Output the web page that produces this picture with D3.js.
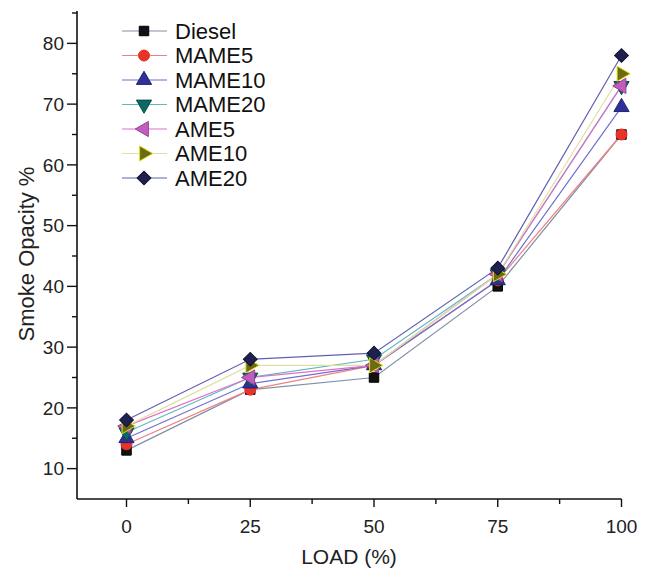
<!DOCTYPE html>
<html><head><meta charset="utf-8">
<script src="https://cdn.jsdelivr.net/npm/d3@7"></script>
<style>body{margin:0;background:#fff}svg{display:block}text{font-family:Arial,"Liberation Sans",sans-serif}</style>
</head><body><svg id="c" width="646" height="571"></svg>
<script>
const loads = [0, 25, 50, 75, 100];
const seriesNames = ["Diesel","MAME5","MAME10","MAME20","AME5","AME10","AME20"];
const diesel = [13, 23, 25, 40, 65];
const mame5  = [14, 23, 27, 41, 65];
const mame10 = [15, 24, 27, 41, 69.5];
const mame20 = [16, 25, 28, 42, 73];
const ame5   = [17, 25, 27, 42, 73];
const ame10  = [17, 27, 27, 42, 75];
const ame20  = [18, 28, 29, 43, 78];
const xTicks = [0, 25, 50, 75, 100];
const yTicks = [10, 20, 30, 40, 50, 60, 70, 80];

const values = [diesel, mame5, mame10, mame20, ame5, ame10, ame20];
const fills  = ["#111111","#e8322a","#2e2f9a","#0c6a66","#c05ec0","#6b6b10","#202050"];
const strokes= ["#000000","#e8322a","#22226a","#0a4a48","#9a409a","#e0e020","#101030"];
const lineCols=["#7f8fa8","#f08080","#7070d0","#60b8c0","#e070c8","#e0e0a0","#6060b0"];
const symbols = [d3.symbolSquare, d3.symbolCircle, d3.symbolTriangle, "down", "left", "right", "diamond"];

const svg = d3.select("#c");
const x = d3.scaleLinear().domain([-10, 100]).range([77, 621.5]);
const y = d3.scaleLinear().domain([5, 85]).range([499, 13]);

function markerPath(i, size) {
  const s = symbols[i];
  if (s === "down" || s === "left" || s === "right") {
    const p = d3.symbol(d3.symbolTriangle, size)();
    return {p, rot: s === "down" ? 180 : (s === "left" ? -90 : 90)};
  }
  if (s === "diamond") return {p: d3.symbol(d3.symbolSquare, size)(), rot: 45};
  return {p: d3.symbol(s, size)(), rot: 0};
}
const msize = [90, 95, 100, 100, 100, 100, 95];

// axes
const xAxis = svg.append("g").attr("transform", `translate(0,499)`);
xAxis.append("line").attr("x1", 77).attr("x2", 621.5).attr("stroke", "#111").attr("stroke-width", 1.6);
d3.range(0, 101, 12.5).forEach(v => {
  const major = v % 25 === 0;
  xAxis.append("line").attr("x1", x(v)).attr("x2", x(v)).attr("y1", 0).attr("y2", major ? 8 : 5)
    .attr("stroke", "#111").attr("stroke-width", 1.4);
});
xAxis.selectAll("text.t").data(xTicks).enter().append("text")
  .attr("x", d => x(d)).attr("y", 34).attr("text-anchor", "middle")
  .attr("font-size", 19).attr("fill", "#222").text(d => d);

const yAxis = svg.append("g").attr("transform", `translate(77,0)`);
yAxis.append("line").attr("y1", 499).attr("y2", 11).attr("stroke", "#111").attr("stroke-width", 1.6);
d3.range(5, 86, 5).forEach(v => {
  if (v === 5) return;
  const major = v % 10 === 0;
  yAxis.append("line").attr("y1", y(v)).attr("y2", y(v)).attr("x1", 0).attr("x2", major ? -10 : -5)
    .attr("stroke", "#111").attr("stroke-width", 1.4);
});
yAxis.selectAll("text.t").data(yTicks).enter().append("text")
  .attr("x", -13).attr("y", d => y(d)).attr("dy", "0.35em").attr("text-anchor", "end")
  .attr("font-size", 19).attr("fill", "#222").text(d => d);

svg.append("text").attr("x", 349).attr("y", 564).attr("text-anchor", "middle")
  .attr("font-size", 21).attr("fill", "#222").text("LOAD (%)");
svg.append("text").attr("transform", "translate(34,254) rotate(-90)").attr("text-anchor", "middle")
  .attr("font-size", 22).attr("fill", "#222").text("Smoke Opacity %");

// lines
const line = d3.line().x((d, j) => x(loads[j])).y(d => y(d));
values.forEach((vals, i) => {
  svg.append("path").attr("d", line(vals)).attr("fill", "none")
    .attr("stroke", lineCols[i]).attr("stroke-width", 1.2);
});
// markers
values.forEach((vals, i) => {
  const m = markerPath(i, msize[i]);
  svg.append("g").selectAll("path").data(vals).enter().append("path")
    .attr("d", m.p)
    .attr("transform", (d, j) => `translate(${x(loads[j])},${y(d)}) rotate(${m.rot})`)
    .attr("fill", fills[i]).attr("stroke", strokes[i]).attr("stroke-width", 1);
});

// legend
const lg = svg.append("g");
seriesNames.forEach((n, i) => {
  const yy = 31 + i * 24.5;
  lg.append("line").attr("x1", 122).attr("x2", 167).attr("y1", yy).attr("y2", yy)
    .attr("stroke", lineCols[i]).attr("stroke-width", 1.2);
  const m = markerPath(i, msize[i]);
  lg.append("path").attr("d", m.p).attr("transform", `translate(144,${yy}) rotate(${m.rot})`)
    .attr("fill", fills[i]).attr("stroke", strokes[i]).attr("stroke-width", 1);
  lg.append("text").attr("x", 175).attr("y", yy).attr("dy", "0.36em")
    .attr("font-size", 22).attr("fill", "#111").text(n);
});
</script></body></html>
